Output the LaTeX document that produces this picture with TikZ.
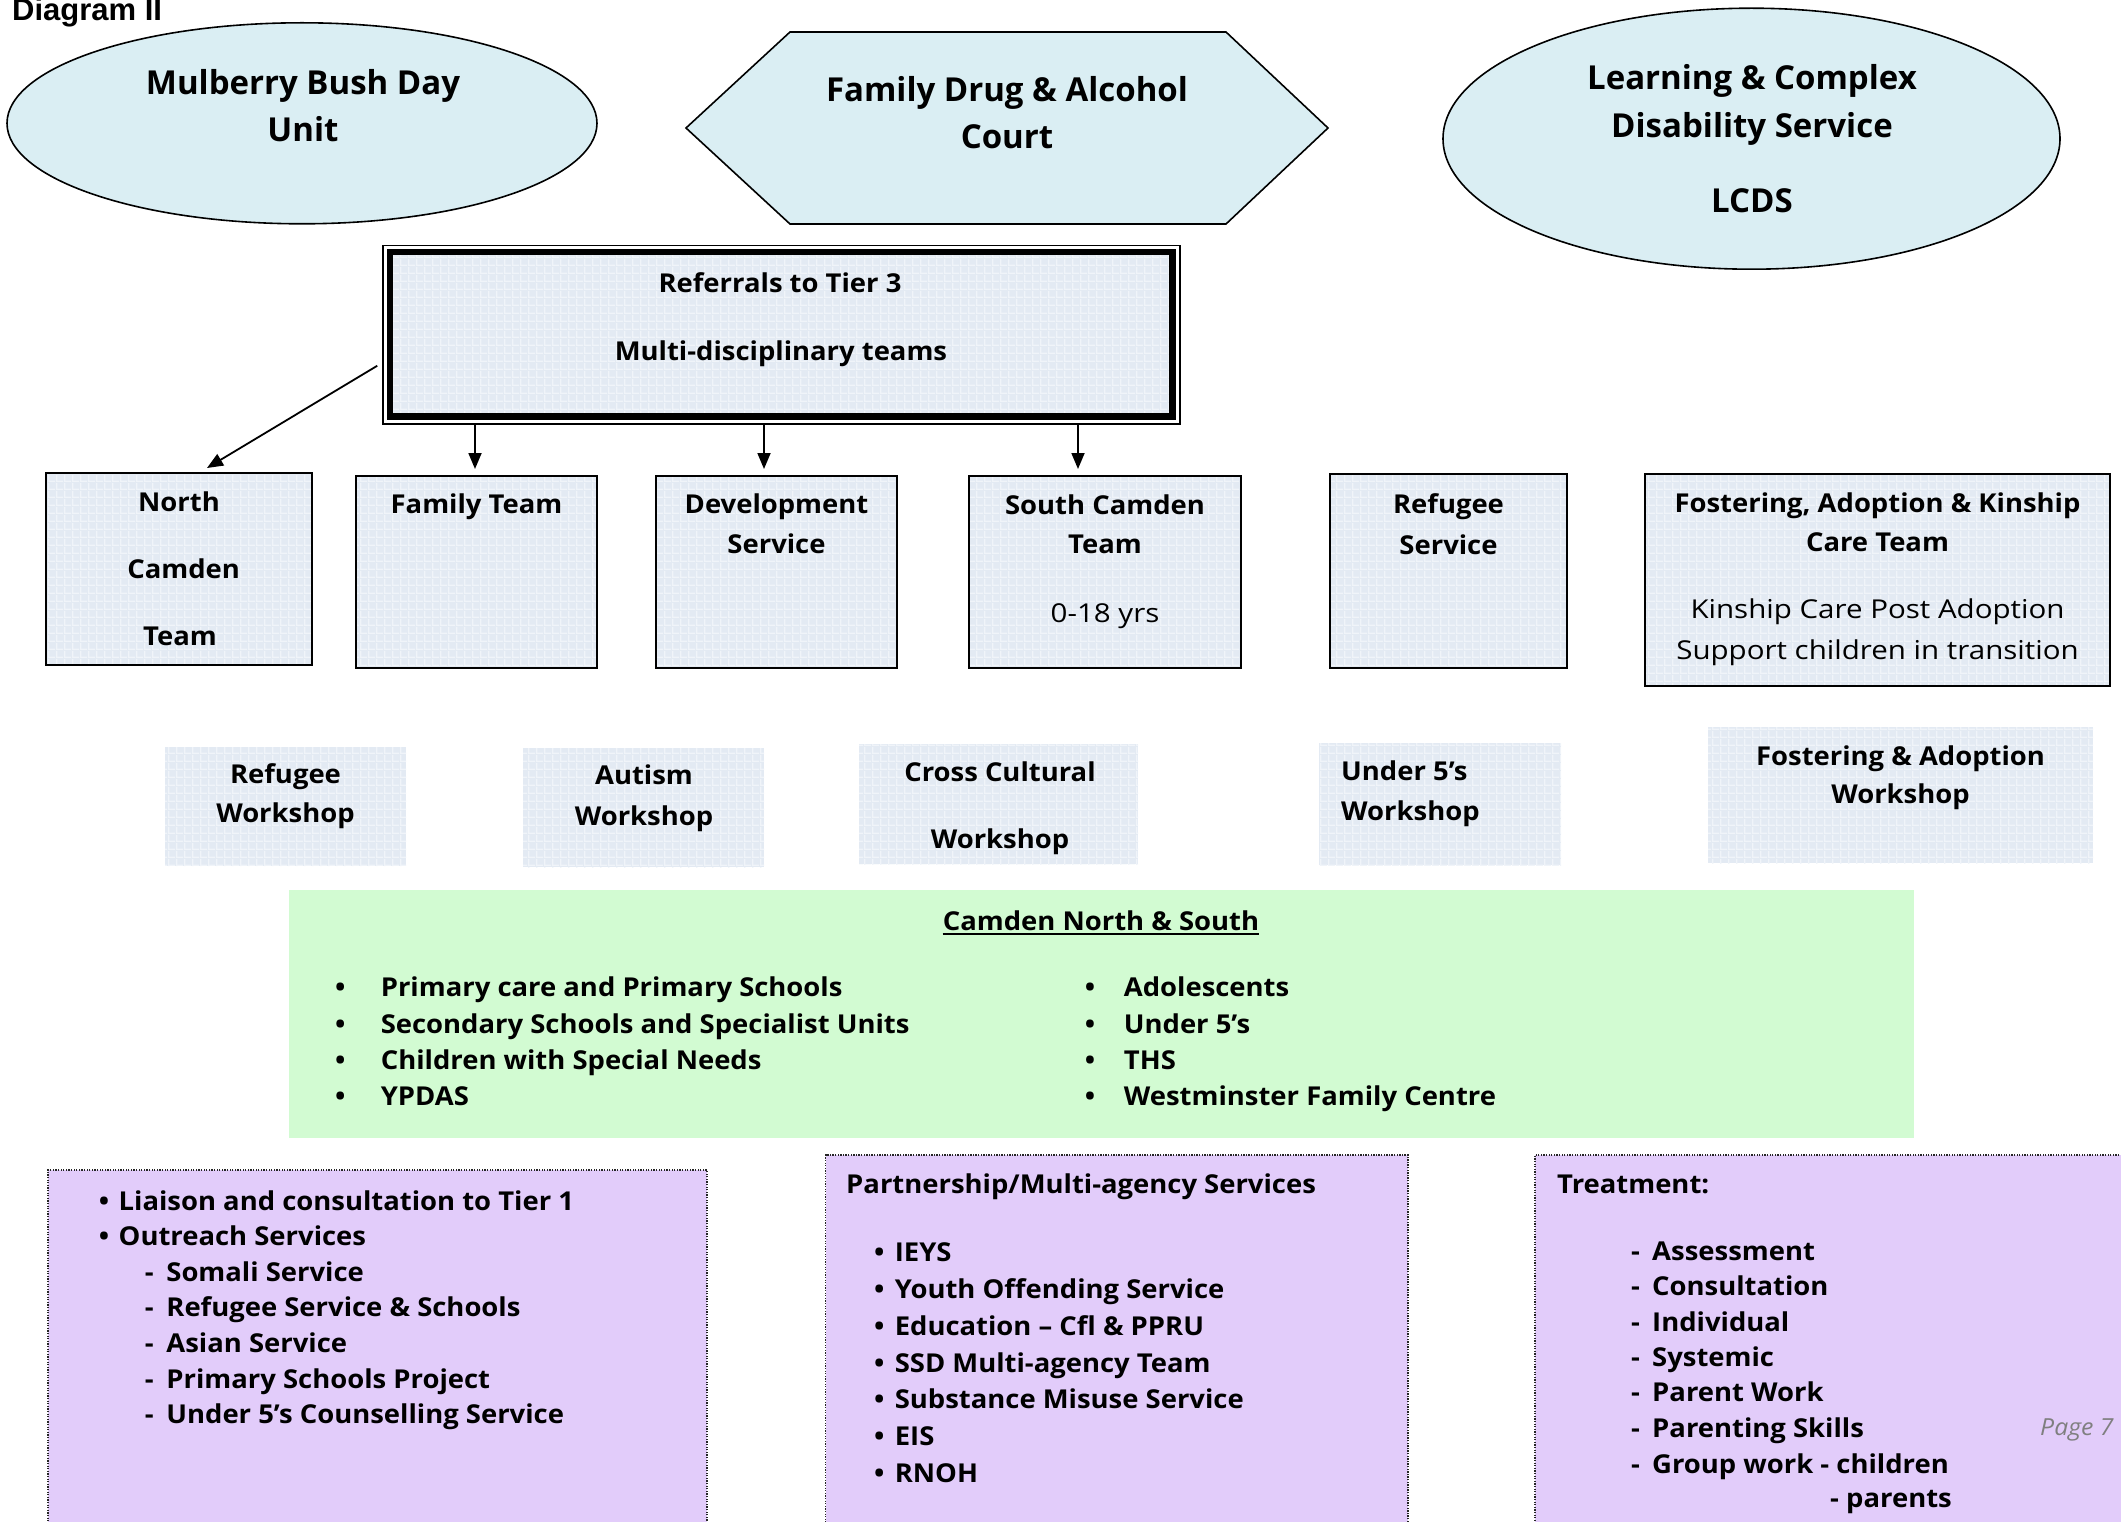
\documentclass[tikz,border=0pt]{standalone}
\usepackage{fontspec}
\setmainfont{Open Sans}[FakeStretch=1.055]
\newfontfamily\ellf{Open Sans}
\newfontfamily\regw{Open Sans}[FakeStretch=1.135]
\newfontfamily\arialf{Liberation Sans}
\usetikzlibrary{arrows.meta,patterns.meta,shapes.geometric}
\definecolor{ellfill}{HTML}{DAEEF3}
\definecolor{boxfill}{HTML}{E3EAF3}
\definecolor{gridc}{HTML}{F0F4F9}
\definecolor{greenf}{HTML}{D2FBD2}
\definecolor{purplef}{HTML}{E2CCFA}
\definecolor{pagegray}{HTML}{7F7F7F}
\tikzdeclarepattern{name=bgrid, type=uncolored,
  bounding box={(0pt,0pt) and (8pt,8pt)}, tile size={(8pt,8pt)},
  code={\fill (0pt,0pt) rectangle (8pt,1.6pt); \fill (0pt,0pt) rectangle (1.6pt,8pt);}}
\newcommand\fb{\bfseries\fontsize{26}{31}\selectfont}
\newcommand\fr{\regw\fontsize{26}{31}\selectfont}
\newcommand\fe{\ellf\bfseries\fontsize{33}{40}\selectfont}
\newcommand\rnode[6]{\node[#1, minimum width={#5-#3}, minimum height={#6-#4}] (#2) at ({(#3+#5)/2},{(#4+#6)/2}) {};}
\begin{document}
\begin{tikzpicture}[x=1pt,y=-1pt,
  ell/.style={draw=black, line width=1.6, fill=ellfill, shape=ellipse, inner sep=0},
  tbox/.style={preaction={fill=boxfill}, preaction={pattern=bgrid, pattern color=gridc}, draw=black, line width=2, inner sep=0, rectangle},
  wbox/.style={fill=boxfill, postaction={pattern=bgrid, pattern color=gridc}, inner sep=0, rectangle},
  gbox/.style={fill=greenf, inner sep=0, rectangle},
  pbox/.style={draw=black!85, line width=1.3, dash pattern=on 1.3pt off 1.3pt, fill=purplef, inner sep=0, rectangle},
  thin/.style={draw=black, line width=1.5, inner sep=0, rectangle},
  arr/.style={-{Triangle[length=16pt,width=13pt]}, line width=1.8},
  txt/.style={inner sep=0, anchor=base, font=\fb},
  txl/.style={txt, anchor=base west},
  txr/.style={inner sep=0, anchor=base, font=\fr},
  txe/.style={inner sep=0, anchor=base, font=\fe}]
\useasboundingbox (0,0) rectangle (2121,1522);
\fill[white] (0,0) rectangle (2121,1522);

% title
\node[inner sep=0, anchor=base west, font=\arialf\bfseries\fontsize{31}{36}\selectfont] (title) at (12,20.7) {Diagram II};

% top shapes
\node[ell, minimum width=590, minimum height=201] (mb) at (302,123.3) {};
\node[txe] (mb1) at (303,95) {Mulberry Bush Day};
\node[txe] (mb2) at (303,141.7) {Unit};

\draw[line width=1.6, fill=ellfill] (686,128) -- (790,32) -- (1226,32) -- (1328,128) -- (1226,224) -- (790,224) -- cycle;
\node[txe] (fd1) at (1007,101.7) {Family Drug \& Alcohol};
\node[txe] (fd2) at (1007,148.3) {Court};

\node[ell, minimum width=617, minimum height=261] (lc) at (1751.5,138.7) {};
\node[txe] (lc1) at (1752,90) {Learning \& Complex};
\node[txe] (lc2) at (1752,138) {Disability Service};
\node[txe] (lc3) at (1752,212.5) {LCDS};

% referral box
\rnode{thin}{ref}{383}{245.5}{1180}{424}
\fill[boxfill, postaction={pattern=bgrid, pattern color=gridc}] (390,252) rectangle (1172.5,416.5);
\draw[line width=6.5] (390,252) rectangle (1172.5,416.5);
\node[txt] (r1) at (780,293) {Referrals to Tier 3};
\node[txt] (r2) at (781,360.7) {Multi-disciplinary teams};

% team boxes
\rnode{tbox}{nc}{46}{473}{312}{665}
\rnode{tbox}{fam}{356}{476}{597}{668}
\rnode{tbox}{dev}{656}{476}{897}{668}
\rnode{tbox}{sc}{969}{476}{1241}{668}
\rnode{tbox}{rs}{1330}{474}{1567}{668}
\rnode{tbox}{fos}{1645}{474}{2110}{686}

\node[txt] (nc1) at (179,511.7) {North};
\node[txt] (nc2) at (183.6,578) {Camden};
\node[txt] (nc3) at (180,645) {Team};
\node[txt] (fam1) at (476.5,513) {Family Team};
\node[txt] (dev1) at (776.5,513) {Development};
\node[txt] (dev2) at (776.5,553) {Service};
\node[txt] (sc1) at (1105,514) {South Camden};
\node[txt] (sc2) at (1105,553) {Team};
\node[txr] (sc3) at (1105,622) {0-18 yrs};
\node[txt] (rs1) at (1448.5,513) {Refugee};
\node[txt] (rs2) at (1448.5,554) {Service};
\node[txt] (fos1) at (1877.5,512) {Fostering, Adoption \& Kinship};
\node[txt] (fos2) at (1877.5,551) {Care Team};
\node[txr] (fos3) at (1877.5,618) {Kinship Care Post Adoption};
\node[txr] (fos4) at (1877.5,659) {Support children in transition};

% arrows
\coordinate (ax1) at (475,0);
\coordinate (ax2) at (764,0);
\coordinate (ax3) at (1078,0);
\draw[arr] ([shift={(-5,31)}]ref.west) -- ([shift={(28,-4)}]nc.north);
\draw[arr, shorten >=6pt] (ref.south -| ax1) -- (fam.north -| ax1);
\draw[arr, shorten >=6pt] (ref.south -| ax2) -- (dev.north -| ax2);
\draw[arr, shorten >=6pt] (ref.south -| ax3) -- (sc.north -| ax3);

% workshops
\rnode{wbox}{w1}{165}{747}{406}{866}
\rnode{wbox}{w2}{523}{748}{764}{867}
\rnode{wbox}{w3}{859}{744}{1138}{864}
\rnode{wbox}{w4}{1319}{743}{1561}{865}
\rnode{wbox}{w5}{1708}{727}{2093}{863}
\node[txt] (w1a) at (285.5,783) {Refugee};
\node[txt] (w1b) at (285.5,822) {Workshop};
\node[txt] (w2a) at (644,784) {Autism};
\node[txt] (w2b) at (644,825) {Workshop};
\node[txt] (w3a) at (1000,781) {Cross Cultural};
\node[txt] (w3b) at (1000,848) {Workshop};
\node[txl] (w4a) at (1341,780.7) {Under 5’s};
\node[txl] (w4b) at (1341,820) {Workshop};
\node[txt] (w5a) at (1900.5,765) {Fostering \& Adoption};
\node[txt] (w5b) at (1900.5,803) {Workshop};

% green box
\rnode{gbox}{cam}{288.5}{890}{1913.5}{1137.7}
\node[txt] (cam0) at (1101,930) {Camden North \& South};
\draw[line width=2.4] ([yshift=-4pt]cam0.base west) -- ([yshift=-4pt]cam0.base east);
\foreach \y/\t [count=\i] in {996.7/Primary care and Primary Schools, 1033/Secondary Schools and Specialist Units, 1069/Children with Special Needs, 1105/YPDAS}{
  \node[txl] (gb\i) at (335,\y) {•};
  \node[txl] (gl\i) at (380.6,\y) {\t};
}
\foreach \y/\t [count=\i] in {996.7/Adolescents, 1033/Under 5’s, 1069/THS, 1105/Westminster Family Centre}{
  \node[txl] (gc\i) at (1084.6,\y) {•};
  \node[txl] (gr\i) at (1123.7,\y) {\t};
}

% purple boxes
\rnode{pbox}{pl}{48}{1170}{707}{1535}
\rnode{pbox}{pm}{825.7}{1155}{1408}{1535}
\rnode{pbox}{pr}{1535}{1155}{2135}{1535}

\node[txl] (plb1) at (98.7,1210) {•};
\node[txl] (pl1) at (118.5,1210) {Liaison and consultation to Tier 1};
\node[txl] (plb2) at (98.7,1245) {•};
\node[txl] (pl2) at (118.5,1245) {Outreach Services};
\foreach \y/\t [count=\i] in {1281.7/Somali Service, 1316.7/Refugee Service \& Schools, 1352.7/Asian Service, 1388/Primary Schools Project, 1423/Under 5’s Counselling Service}{
  \node[txl] (pld\i) at (144.6,\y) {-};
  \node[txl] (plt\i) at (166.2,\y) {\t};
}

\node[txl] (pm0) at (846,1193) {Partnership/Multi-agency Services};
\foreach \y/\t [count=\i] in {1261.7/IEYS, 1298/Youth Offending Service, 1335/Education – Cfl \& PPRU, 1372/SSD Multi-agency Team, 1408/Substance Misuse Service, 1445.7/EIS, 1482/RNOH}{
  \node[txl] (pmb\i) at (874,\y) {•};
  \node[txl] (pmt\i) at (894.6,\y) {\t};
}

\node[txl] (pr0) at (1557,1193) {Treatment:};
\foreach \y/\t [count=\i] in {1260/Assessment, 1295.3/Consultation, 1331/Individual, 1366/Systemic, 1401.7/Parent Work, 1437/Parenting Skills, 1473/Group work - children}{
  \node[txl] (prd\i) at (1631,\y) {-};
  \node[txl] (prt\i) at (1652,\y) {\t};
}
\node[txl] (prd8) at (1830,1507) {-};
\node[txl] (prt8) at (1846,1507) {parents};

\node[inner sep=0, anchor=base west, text=pagegray, font=\itshape\fontsize{23.5}{28}\selectfont] (page) at (2040,1435) {Page 7};
\end{tikzpicture}
\end{document}
